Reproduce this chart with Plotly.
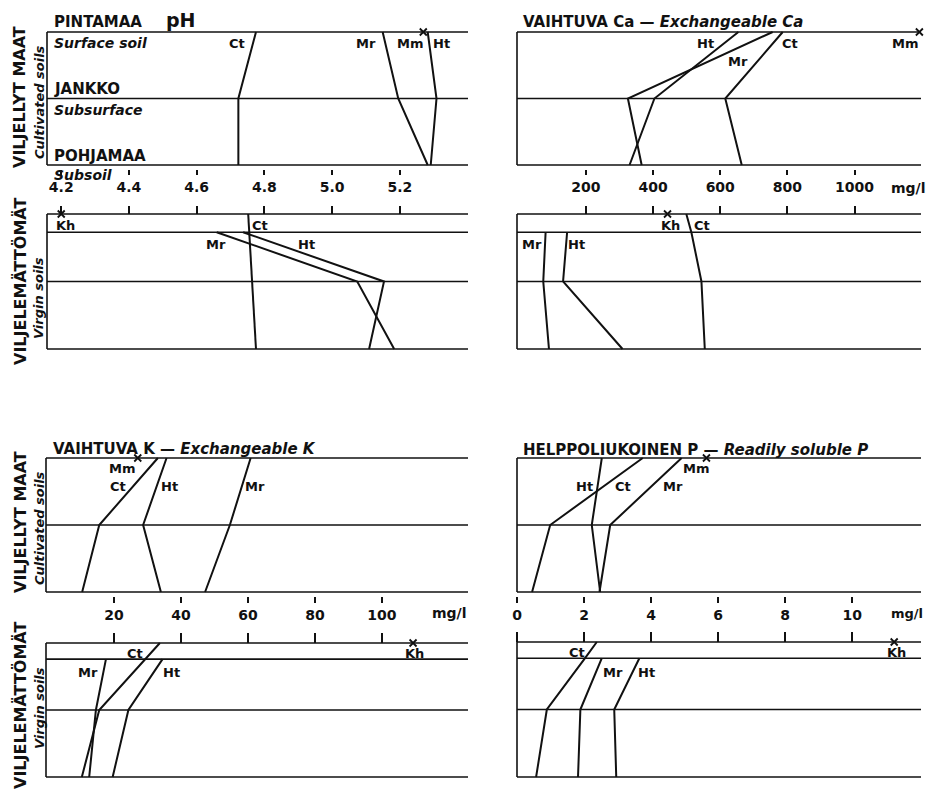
import plotly.graph_objects as go

OFF = 0
W, H = 926, 794
FONT = "DejaVu Sans"
INK = "#111111"

# ---------------- data ----------------
# depth levels (0 = surface line, 1 = subsurface line, 2 = subsoil line)
DEPTH_CULT = [0, 1, 2]
DEPTH_VIRGIN_TOP = [0, 0.27, 1, 2]
DEPTH_VIRGIN_BOT = [0, 0.24, 1, 2]

PH_CULT = {"Ct": [4.775, 4.723, 4.723], "Mr": [5.149, 5.195, 5.282], "Ht": [5.282, 5.308, 5.291]}
PH_CULT_MM = 5.269
PH_VIRG_CT = [4.752, 4.755, 4.764, 4.775]
PH_VIRG = {"Mr": [4.659, 5.074, 5.183], "Ht": [4.737, 5.153, 5.109]}
PH_VIRG_KH = 4.2

CA_CULT = {"Ht": [654, 404, 330], "Mr": [756, 325, 366], "Ct": [786, 615, 664]}
CA_CULT_MM = 1193
CA_VIRG_CT = [499, 514, 544, 554]
CA_VIRG = {"Mr": [80, 73, 90], "Ht": [144, 132, 309]}
CA_VIRG_KH = 443

K_CULT = {"Ct": [33.1, 15.6, 10.5], "Ht": [35.7, 28.7, 34.0], "Mr": [60.8, 54.6, 47.2]}
K_CULT_MM = 27.1
K_VIRG_CT = [33.7, 29.3, 15.6, 10.4]
K_VIRG = {"Mr": [17.6, 14.6, 12.6], "Ht": [34.5, 24.3, 19.6]}
K_VIRG_KH = 109.3

P_CULT = {"Ht": [2.53, 2.23, 2.48], "Ct": [3.75, 0.99, 0.45], "Mr": [4.91, 2.78, 2.46]}
P_CULT_MM = 5.65
P_VIRG_CT = [2.38, 2.03, 0.89, 0.57]
P_VIRG = {"Mr": [2.53, 1.89, 1.82], "Ht": [3.65, 2.90, 2.96]}
P_VIRG_KH = 11.25

PH_TICKS = [4.2, 4.4, 4.6, 4.8, 5.0, 5.2]
PH_TICKTEXT = ["4.2", "4.4", "4.6", "4.8", "5.0", "5.2"]
CA_TICKS = [200, 400, 600, 800, 1000]
CA_TICKTEXT = ["200", "400", "600", "800", "1000"]
K_TICKS = [20, 40, 60, 80, 100]
K_TICKTEXT = ["20", "40", "60", "80", "100"]
P_TICKS = [0, 2, 4, 6, 8, 10]
P_TICKTEXT = ["0", "2", "4", "6", "8", "10"]

# ---------------- layout helpers ----------------
def pxx(px):
    return (px - OFF) / W


def pxy(py):
    return 1 - (py - OFF) / H


PAD = 5

# panel geometry: x pixels, y pixels, x data range at the pixel edges
PANELS = [
    dict(px=(47, 468), py=(32, 165), xr=(4.158, 5.401), tick_py=169, side="bottom", tl=5,
         ticks=PH_TICKS, text=PH_TICKTEXT, levels=DEPTH_CULT),
    dict(px=(47, 468), py=(214, 349), xr=(4.158, 5.401), tick_py=214, side="top", tl=8,
         ticks=PH_TICKS, text=None, levels=DEPTH_VIRGIN_TOP),
    dict(px=(517, 921), py=(32, 165), xr=(-5.2, 1197.8), tick_py=169, side="bottom", tl=5,
         ticks=CA_TICKS, text=CA_TICKTEXT, levels=DEPTH_CULT),
    dict(px=(517, 921), py=(214, 349), xr=(-5.2, 1197.8), tick_py=214, side="top", tl=8,
         ticks=CA_TICKS, text=None, levels=DEPTH_VIRGIN_TOP),
    dict(px=(46, 468), py=(458, 592), xr=(-0.3, 125.7), tick_py=596, side="bottom", tl=6,
         ticks=K_TICKS, text=K_TICKTEXT, levels=DEPTH_CULT),
    dict(px=(46, 468), py=(643, 777), xr=(-0.3, 125.7), tick_py=643, side="top", tl=10,
         ticks=K_TICKS, text=None, levels=DEPTH_VIRGIN_BOT),
    dict(px=(517, 921), py=(458, 592), xr=(0.0, 12.05), tick_py=596, side="bottom", tl=6,
         ticks=P_TICKS, text=P_TICKTEXT, levels=DEPTH_CULT),
    dict(px=(517, 921), py=(642, 777), xr=(0.0, 12.05), tick_py=642, side="top", tl=10,
         ticks=P_TICKS, text=None, levels=DEPTH_VIRGIN_BOT),
]

fig = go.Figure()
layout = dict(
    width=W, height=H, margin=dict(l=0, r=0, t=0, b=0),
    paper_bgcolor="white", plot_bgcolor="rgba(0,0,0,0)", showlegend=False,
)
shapes = []
annotations = []

for i, p in enumerate(PANELS):
    n = i + 1
    sfx = "" if n == 1 else str(n)
    x0, x1 = p["px"]
    y0, y1 = p["py"]
    lo, hi = p["xr"]
    sx = (hi - lo) / (x1 - x0)
    sy = 2.0 / (y1 - y0)
    layout["xaxis" + sfx] = dict(
        domain=[pxx(x0 - PAD), min(1.0, pxx(x1 + PAD))],
        range=[lo - PAD * sx, hi + (min(W + OFF, x1 + PAD) - x1) * sx],
        anchor="free", position=pxy(p["tick_py"]), side=p["side"],
        showgrid=False, zeroline=False, showline=False,
        ticks="outside", ticklen=p["tl"], tickwidth=1.6, tickcolor=INK,
        tickvals=p["ticks"], ticktext=p["text"] if p["text"] else p["ticks"],
        showticklabels=p["text"] is not None,
        tickfont=dict(family=FONT, size=14, color=INK, weight="bold"),
        fixedrange=True,
    )
    layout["yaxis" + sfx] = dict(
        domain=[pxy(y1 + PAD), pxy(y0 - PAD)],
        range=[2 + PAD * sy, -PAD * sy],
        visible=False, anchor="x" + sfx, fixedrange=True,
    )
    xr_ = "x" + sfx
    yr_ = "y" + sfx
    for lv in p["levels"]:
        shapes.append(dict(type="line", xref=xr_, yref=yr_, x0=lo, x1=hi, y0=lv, y1=lv,
                           line=dict(color=INK, width=1.6)))
    shapes.append(dict(type="line", xref=xr_, yref=yr_, x0=lo, x1=lo, y0=0, y1=2,
                       line=dict(color=INK, width=1.6)))


def add_line(n, xs, ys):
    sfx = "" if n == 1 else str(n)
    fig.add_trace(go.Scatter(x=xs, y=ys, mode="lines", line=dict(color=INK, width=2),
                             xaxis="x" + sfx, yaxis="y" + sfx, hoverinfo="skip"))


def add_mark(n, xv, yv):
    sfx = "" if n == 1 else str(n)
    fig.add_trace(go.Scatter(x=[xv], y=[yv], mode="markers", cliponaxis=False,
                             marker=dict(symbol="x-thin-open", size=7, color=INK,
                                         line=dict(color=INK, width=1.8)),
                             xaxis="x" + sfx, yaxis="y" + sfx, hoverinfo="skip"))


# cultivated panels
for n, d, mm in [(1, PH_CULT, PH_CULT_MM), (3, CA_CULT, CA_CULT_MM),
                 (5, K_CULT, K_CULT_MM), (7, P_CULT, P_CULT_MM)]:
    for k, vals in d.items():
        add_line(n, vals, DEPTH_CULT)
    add_mark(n, mm, DEPTH_CULT[0])

# virgin panels
for n, ct, d, kh, lv in [(2, PH_VIRG_CT, PH_VIRG, PH_VIRG_KH, DEPTH_VIRGIN_TOP),
                         (4, CA_VIRG_CT, CA_VIRG, CA_VIRG_KH, DEPTH_VIRGIN_TOP),
                         (6, K_VIRG_CT, K_VIRG, K_VIRG_KH, DEPTH_VIRGIN_BOT),
                         (8, P_VIRG_CT, P_VIRG, P_VIRG_KH, DEPTH_VIRGIN_BOT)]:
    add_line(n, ct, lv)
    for k, vals in d.items():
        add_line(n, vals, lv[1:])
    add_mark(n, kh, lv[0])

# series labels (text, x in data units, depth)
SERIES_LABELS = {
    1: [("Ct", 4.719, 0.17), ("Mr", 5.10, 0.17), ("Mm", 5.229, 0.17), ("Ht", 5.323, 0.17)],
    2: [("Kh", 4.214, 0.17), ("Ct", 4.786, 0.17), ("Mr", 4.657, 0.45), ("Ht", 4.925, 0.45)],
    3: [("Ht", 557, 0.17), ("Ct", 808, 0.17), ("Mr", 652, 0.45), ("Mm", 1149, 0.17)],
    4: [("Mr", 40, 0.45), ("Ht", 173, 0.45), ("Kh", 451, 0.17), ("Ct", 545, 0.17)],
    5: [("Mm", 22.5, 0.15), ("Ct", 21.2, 0.43), ("Ht", 36.7, 0.43), ("Mr", 62.2, 0.43)],
    6: [("Ct", 26.4, 0.15), ("Kh", 109.6, 0.15), ("Mr", 12.1, 0.44), ("Ht", 37.3, 0.44)],
    7: [("Ht", 2.0, 0.43), ("Ct", 3.17, 0.43), ("Mr", 4.64, 0.43), ("Mm", 5.35, 0.16)],
    8: [("Ct", 1.78, 0.15), ("Kh", 11.33, 0.15), ("Mr", 2.85, 0.45), ("Ht", 3.87, 0.45)],
}
for n, labs in SERIES_LABELS.items():
    sfx = "" if n == 1 else str(n)
    for t, xv, yv in labs:
        annotations.append(dict(text="<b>%s</b>" % t, x=xv, y=yv, xref="x" + sfx, yref="y" + sfx,
                                showarrow=False, font=dict(family=FONT, size=13, color=INK)))


def ptext(text, px, py, size=14, xanchor="left", angle=0):
    annotations.append(dict(text=text, x=pxx(px), y=pxy(py), xref="paper", yref="paper",
                            xanchor=xanchor, yanchor="middle", showarrow=False, textangle=angle,
                            font=dict(family=FONT, size=size, color=INK)))


# panel titles and row labels
ptext("<b>PINTAMAA</b>", 52, 22, 15)
ptext("<b>pH</b>", 164, 20, 19)
ptext("<b><i>Surface soil</i></b>", 52, 43, 14)
ptext("<b>JANKKO</b>", 52, 89, 15)
ptext("<b><i>Subsurface</i></b>", 52, 110, 14)
ptext("<b>POHJAMAA</b>", 52, 156, 15)
ptext("<b><i>Subsoil</i></b>", 52, 175, 14)
ptext("<b>VAIHTUVA Ca — <i>Exchangeable Ca</i></b>", 521, 22, 15)
ptext("<b>VAIHTUVA K — <i>Exchangeable K</i></b>", 51, 449, 15)
ptext("<b>HELPPOLIUKOINEN P — <i>Readily soluble P</i></b>", 521, 450, 15)
ptext("<b>mg/l</b>", 889, 188, 14)
ptext("<b>mg/l</b>", 430, 613, 14)
ptext("<b>mg/l</b>", 889, 613, 13)

# vertical side labels
ptext("<b>VILJELLYT MAAT</b>", 20, 97, 16, "center", -90)
ptext("<b><i>Cultivated soils</i></b>", 39, 102, 13, "center", -90)
ptext("<b>VILJELEMÄTTÖMÄT</b>", 20, 282, 16, "center", -90)
ptext("<b><i>Virgin soils</i></b>", 38, 298, 13, "center", -90)
ptext("<b>VILJELLYT MAAT</b>", 20, 522, 16, "center", -90)
ptext("<b><i>Cultivated soils</i></b>", 39, 528, 13, "center", -90)
ptext("<b>VILJELEMÄTTÖMÄT</b>", 20, 706, 16, "center", -90)
ptext("<b><i>Virgin soils</i></b>", 39, 708, 13, "center", -90)

layout["shapes"] = shapes
layout["annotations"] = annotations
fig.update_layout(**layout)
fig.write_html(
    "out.html",
    config={"displayModeBar": False},
    post_script="document.body.style.margin='0';document.body.style.overflow='hidden';",
)
